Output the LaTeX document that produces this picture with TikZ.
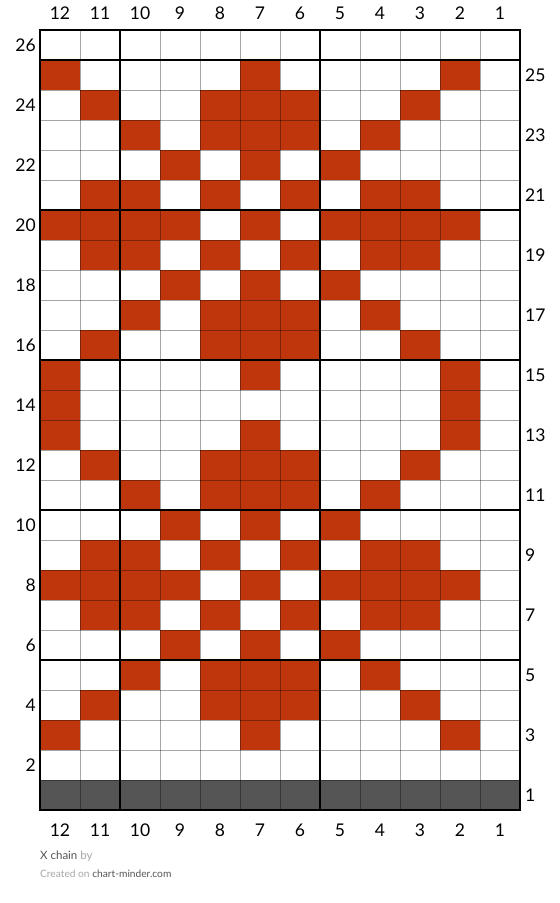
\documentclass[tikz,border=0pt]{standalone}
\usepackage{fontspec}
\setmainfont{Lato}
\definecolor{knitred}{HTML}{BF360C}
\definecolor{knitgray}{HTML}{555555}
\definecolor{footdark}{HTML}{555555}
\definecolor{footlight}{HTML}{A8A8A8}
\tikzset{
  redcell/.style={fill=knitred},
  thinline/.style={draw=black, draw opacity=0.35, line width=1pt},
  thickline/.style={draw=black, line width=2pt},
  lbl/.style={font=\fontsize{17.5}{18}\selectfont, inner sep=0pt, text=black},
  foot/.style={font=\fontsize{11.5}{12}\selectfont, inner sep=0pt, anchor=base west}
}
\begin{document}
\begin{tikzpicture}[x=1pt,y=-1pt]
\useasboundingbox (0,0) rectangle (560,903);
\fill[white] (0,0) rectangle (560,903);
% red cells
\foreach \r/\cols in {25/{12,7,2},24/{11,8,7,6,3},23/{10,8,7,6,4},22/{9,7,5},21/{11,10,8,6,4,3},20/{12,11,10,9,7,5,4,3,2},19/{11,10,8,6,4,3},18/{9,7,5},17/{10,8,7,6,4},16/{11,8,7,6,3},15/{12,7,2},14/{12,2},13/{12,7,2},12/{11,8,7,6,3},11/{10,8,7,6,4},10/{9,7,5},9/{11,10,8,6,4,3},8/{12,11,10,9,7,5,4,3,2},7/{11,10,8,6,4,3},6/{9,7,5},5/{10,8,7,6,4},4/{11,8,7,6,3},3/{12,7,2}}{
  \foreach \c in \cols {
    \fill[redcell] ({40+(12-\c)*40},{30+(26-\r)*30}) rectangle ++(40,30);
  }
}
% gray bottom row
\fill[knitgray] (40,780) rectangle (520,810);
% thin grid
\foreach \i in {1,...,11} { \draw[thinline] ({40+\i*40},30) -- ({40+\i*40},810); }
\foreach \j in {1,...,25} { \draw[thinline] (40,{30+\j*30}) -- (520,{30+\j*30}); }
% thick lines
\foreach \x in {120,320} { \draw[thickline] (\x,30) -- (\x,810); }
\foreach \y in {60,210,360,510,660} { \draw[thickline] (40,\y) -- (520,\y); }
\draw[thickline, line width=2.5pt] (40,30) rectangle (520,810);
% column labels
\foreach \c in {1,...,12} {
  \node[lbl] (ct\c) at ({60+(12-\c)*40},13) {\c};
  \node[lbl] (cb\c) at ({60+(12-\c)*40},830) {\c};
}
% row labels
\foreach \r in {2,4,...,26} { \node[lbl, anchor=east] (rl\r) at (36,{45+(26-\r)*30}) {\r}; }
\foreach \r in {1,3,...,25} { \node[lbl, anchor=west] (rr\r) at (525,{45+(26-\r)*30}) {\r}; }
% footer
\node[foot] (f1) at (40,859) {\textcolor{footdark}{X chain} \textcolor{footlight}{by}};
\node[foot, font=\fontsize{10.2}{11}\selectfont] (f2) at (40,877) {\textcolor{footlight}{Created on} \textcolor{footdark}{chart-minder.com}};
\end{tikzpicture}
\end{document}
